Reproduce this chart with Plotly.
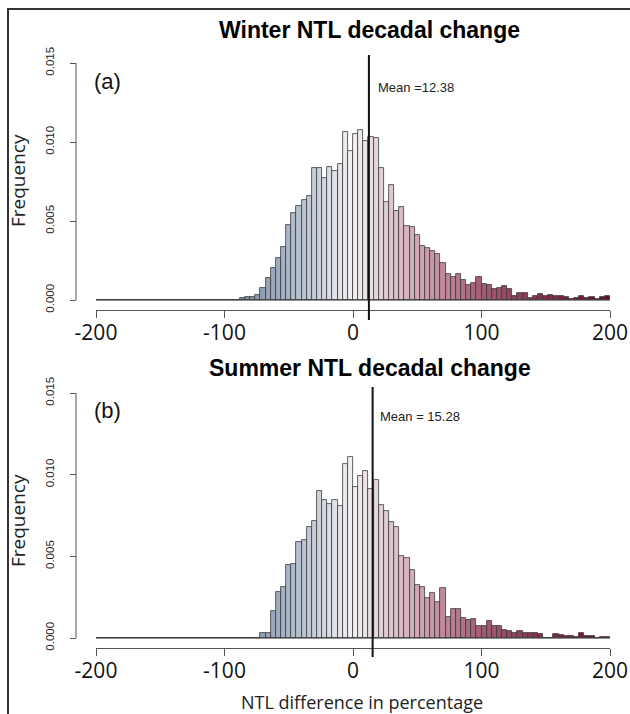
import plotly.graph_objects as go
from plotly.colors import sample_colorscale

W, H = 630, 714

# ---------------- data ----------------
bin_width = 4
bin_left = list(range(-200, 200, bin_width))  # 100 bins from -200 to 200

winter_density = [
    0, 0, 0, 0, 0, 0, 0, 0, 0, 0,            # -200 .. -164
    0, 0, 0, 0, 0, 0, 0, 0, 0, 0,            # -160 .. -124
    0, 0, 0, 0, 0, 0, 0, 0,                  # -120 .. -92
    0.00010, 0.00017, 0.00017, 0.00030, 0.00074, 0.00137, 0.00200, 0.00264,  # -88 .. -60
    0.00338, 0.00475, 0.00549, 0.00595, 0.00633, 0.00660, 0.00833, 0.00838,  # -56 .. -28
    0.00770, 0.00840, 0.00816, 0.00860, 0.01065, 0.00945, 0.01049, 0.01076,  # -24 .. 4
    0.01008, 0.01030, 0.01023, 0.00833, 0.00622, 0.00728, 0.00563, 0.00587,  # 8 .. 36
    0.00470, 0.00460, 0.00410, 0.00342, 0.00327, 0.00312, 0.00291, 0.00236,  # 40 .. 68
    0.00162, 0.00143, 0.00165, 0.00127, 0.00095, 0.00110, 0.00148, 0.00101,  # 72 .. 100
    0.00095, 0.00068, 0.00074, 0.00091, 0.00068, 0.00025, 0.00042, 0.00042,  # 104 .. 132
    0.00010, 0.00025, 0.00038, 0.00027, 0.00032, 0.00027, 0.00025, 0.00020,  # 136 .. 164
    0.00008, 0.00013, 0.00027, 0.00010, 0.00020, 0.00004, 0.00017, 0.00023,  # 168 .. 196
]

summer_density = [
    0, 0, 0, 0, 0, 0, 0, 0, 0, 0,            # -200 .. -164
    0, 0, 0, 0, 0, 0, 0, 0, 0, 0,            # -160 .. -124
    0, 0, 0, 0, 0, 0, 0, 0, 0,               # -120 .. -88
    0.00003, 0, 0.00003, 0.00030, 0.00030, 0.00167, 0.00282, 0.00312,        # -84 .. -56
    0.00445, 0.00455, 0.00586, 0.00598, 0.00678, 0.00714, 0.00898, 0.00847,  # -52 .. -24
    0.00820, 0.00847, 0.00806, 0.01067, 0.01106, 0.00924, 0.00994, 0.01024,  # -20 .. 8
    0.00912, 0.00965, 0.00816, 0.00780, 0.00708, 0.00680, 0.00504, 0.00490,  # 12 .. 40
    0.00416, 0.00324, 0.00314, 0.00247, 0.00278, 0.00222, 0.00304, 0.00130,  # 44 .. 72
    0.00176, 0.00176, 0.00124, 0.00110, 0.00116, 0.00075, 0.00075, 0.00104,  # 76 .. 104
    0.00075, 0.00073, 0.00049, 0.00045, 0.00033, 0.00045, 0.00029, 0.00029,  # 108 .. 136
    0.00029, 0.00024, 0.00003, 0.00003, 0.00024, 0.00018, 0.00010, 0.00012,  # 140 .. 168
    0.00004, 0.00033, 0.00012, 0.00012, 0, 0.00004, 0.00008,                 # 172 .. 196
]

winter_mean = 12.38
summer_mean = 15.28

x_ticks = [-200, -100, 0, 100, 200]
x_ticktext = ["-200", "-100", "0", "100", "200"]
y_ticks = [0, 0.005, 0.010, 0.015]
y_ticktext = ["0.000", "0.005", "0.010", "0.015"]

# ---------------- style ----------------
color_stops = [(-100, "#6e7e9b"), (-50, "#aab6c8"), (0, "#f2f2f4"), (50, "#d2a8b7"),
               (100, "#a45d75"), (150, "#852c4b"), (200, "#650a28")]
lo, hi = color_stops[0][0], color_stops[-1][0]
cscale = [[(v - lo) / (hi - lo), c] for v, c in color_stops]


def bar_colors(lefts):
    out = []
    for l in lefts:
        c = l + bin_width / 2
        t = min(max((c - lo) / (hi - lo), 0), 1)
        out.append(sample_colorscale(cscale, [t])[0])
    return out


def px_x(p):
    return p / W


def px_y(p):
    return 1 - p / H


centers = [l + bin_width / 2 for l in bin_left]
cols = bar_colors(bin_left)

fig = go.Figure()

panels = [
    dict(dens=winter_density, mean=winter_mean, xa="x", ya="y",
         zero_px=300, top_px=63, dom=(55, 320), axis_px=310,
         title="Winter NTL decadal change", title_px=(369, 30),
         tag="(a)", tag_px=(107, 81), mean_txt="Mean =12.38", mean_px=(376, 87),
         freq_px=181),
    dict(dens=summer_density, mean=summer_mean, xa="x2", ya="y2",
         zero_px=638, top_px=393, dom=(387, 657), axis_px=648,
         title="Summer NTL decadal change", title_px=(370, 368),
         tag="(b)", tag_px=(107, 411), mean_txt="Mean = 15.28", mean_px=(378, 416),
         freq_px=521),
]

annotations = []
shapes = []

for i, p in enumerate(panels):
    # zero baseline (empty bins drawn as flat line)
    fig.add_trace(go.Scatter(x=[bin_left[0], bin_left[-1] + bin_width], y=[0, 0],
                             mode="lines", line=dict(color="#333333", width=1),
                             xaxis=p["xa"], yaxis=p["ya"], showlegend=False,
                             hoverinfo="skip", cliponaxis=False))
    fig.add_trace(go.Bar(x=centers, y=p["dens"], width=bin_width,
                         marker=dict(color=cols, line=dict(color="#3a3a3a", width=0.8)),
                         xaxis=p["xa"], yaxis=p["ya"], showlegend=False))

    scale = (p["zero_px"] - p["top_px"]) / 0.015  # px per unit density
    ybot = -(p["dom"][1] - p["zero_px"]) / scale
    ytop = (p["zero_px"] - p["dom"][0]) / scale

    xkey = "xaxis" if i == 0 else "xaxis2"
    ykey = "yaxis" if i == 0 else "yaxis2"
    fig.layout[xkey] = dict(
        domain=[px_x(96), px_x(610)], range=[-200, 200], anchor="free",
        position=px_y(p["axis_px"]), showline=True, linecolor="#555555", linewidth=1,
        ticks="outside", ticklen=7, tickcolor="#555555",
        tickvals=x_ticks, ticktext=x_ticktext, ticklabelstandoff=-3,
        tickfont=dict(family="Open Sans", size=21, color="#111111"),
        showgrid=False, zeroline=False, automargin=False,
    )
    fig.layout[ykey] = dict(
        domain=[px_y(p["dom"][1]), px_y(p["dom"][0])], range=[ybot, ytop],
        anchor="free", position=px_x(76), showline=False,
        ticks="outside", ticklen=6, tickcolor="#555555",
        tickvals=y_ticks, ticktext=y_ticktext, tickangle=-90,
        tickfont=dict(family="Liberation Sans", size=11.5, color="#222222"),
        ticklabelstandoff=11, showgrid=False, zeroline=False, automargin=False,
    )

    # y axis line only across tick span
    shapes.append(dict(type="line", xref="paper", yref=p["ya"],
                       x0=px_x(76), x1=px_x(76), y0=y_ticks[0], y1=y_ticks[-1],
                       line=dict(color="#555555", width=1)))
    # mean line
    shapes.append(dict(type="line", xref=p["xa"], yref=p["ya"] + " domain",
                       x0=p["mean"], x1=p["mean"], y0=0, y1=1,
                       line=dict(color="#111111", width=2)))

    annotations += [
        dict(text="<b>%s</b>" % p["title"], x=px_x(p["title_px"][0]), y=px_y(p["title_px"][1]),
             xref="paper", yref="paper", showarrow=False, xanchor="center", yanchor="middle",
             font=dict(family="Liberation Sans", size=23, color="#000000")),
        dict(text=p["tag"], x=px_x(p["tag_px"][0]), y=px_y(p["tag_px"][1]),
             xref="paper", yref="paper", showarrow=False, xanchor="center", yanchor="middle",
             font=dict(family="Liberation Sans", size=22, color="#111111")),
        dict(text=p["mean_txt"], x=px_x(p["mean_px"][0]), y=px_y(p["mean_px"][1]),
             xref="paper", yref="paper", showarrow=False, xanchor="left", yanchor="middle",
             font=dict(family="Liberation Sans", size=13, color="#222222")),
        dict(text="Frequency", x=px_x(18), y=px_y(p["freq_px"]), textangle=-90,
             xref="paper", yref="paper", showarrow=False, xanchor="center", yanchor="middle",
             font=dict(family="Open Sans", size=19, color="#222222")),
    ]

annotations.append(dict(text="NTL difference in percentage", x=px_x(362), y=px_y(702),
                        xref="paper", yref="paper", showarrow=False,
                        xanchor="center", yanchor="middle",
                        font=dict(family="Open Sans", size=18, color="#222222")))

# outer frame
shapes.append(dict(type="rect", xref="paper", yref="paper",
                   x0=px_x(8), x1=px_x(650), y0=px_y(730), y1=px_y(9),
                   line=dict(color="#333333", width=2), fillcolor="rgba(0,0,0,0)"))

fig.update_layout(
    width=W, height=H, margin=dict(l=0, r=0, t=0, b=0, autoexpand=False),
    paper_bgcolor="white", plot_bgcolor="white",
    bargap=0, showlegend=False,
    annotations=annotations, shapes=shapes,
)

fig.write_html("out.html")
